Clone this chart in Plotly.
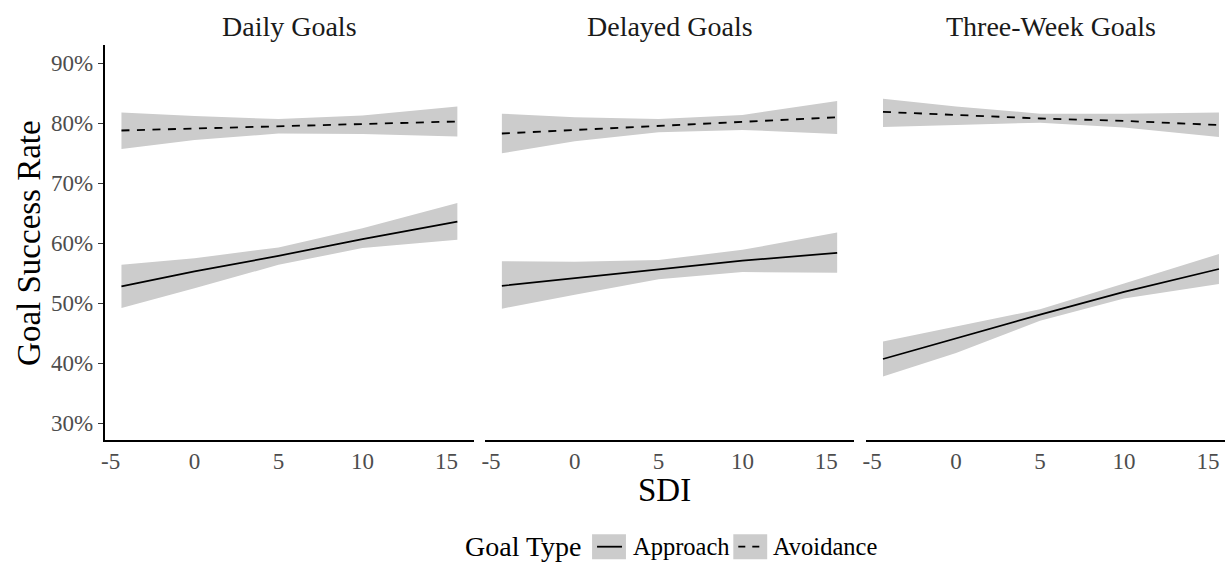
import plotly.graph_objects as go

W, H = 1225, 569

# ---------------- data ----------------
panels = ["Daily Goals", "Delayed Goals", "Three-Week Goals"]
sdi = [-4.35, 0, 5, 10, 15.65]

# Daily Goals
daily_appr = [52.8, 55.3, 57.9, 60.7, 63.6]
daily_appr_lo = [49.2, 52.5, 56.4, 59.2, 60.6]
daily_appr_hi = [56.4, 57.5, 59.3, 62.5, 66.7]
daily_avoid = [78.8, 79.1, 79.5, 79.9, 80.3]
daily_avoid_lo = [75.7, 77.2, 78.3, 78.2, 77.8]
daily_avoid_hi = [81.8, 81.2, 80.7, 81.3, 82.8]

# Delayed Goals
delayed_appr = [52.9, 54.2, 55.7, 57.1, 58.4]
delayed_appr_lo = [49.1, 51.4, 54.0, 55.2, 55.1]
delayed_appr_hi = [57.0, 56.9, 57.2, 58.9, 61.8]
delayed_avoid = [78.3, 78.9, 79.6, 80.2, 81.0]
delayed_avoid_lo = [75.0, 77.0, 78.5, 78.9, 78.2]
delayed_avoid_hi = [81.6, 81.0, 80.7, 81.4, 83.7]

# Three-Week Goals
three_appr = [40.7, 44.2, 48.1, 51.9, 55.7]
three_appr_lo = [37.8, 41.7, 47.1, 50.8, 53.2]
three_appr_hi = [43.6, 46.1, 49.0, 53.3, 58.2]
three_avoid = [81.9, 81.4, 80.8, 80.4, 79.7]
three_avoid_lo = [79.4, 79.7, 80.1, 79.3, 77.7]
three_avoid_hi = [84.1, 82.8, 81.6, 81.6, 81.8]

x_ticks = [-5, 0, 5, 10, 15]
y_ticks = [30, 40, 50, 60, 70, 80, 90]

panel_data = [
    (daily_appr, daily_appr_lo, daily_appr_hi, daily_avoid, daily_avoid_lo, daily_avoid_hi),
    (delayed_appr, delayed_appr_lo, delayed_appr_hi, delayed_avoid, delayed_avoid_lo, delayed_avoid_hi),
    (three_appr, three_appr_lo, three_appr_hi, three_avoid, three_avoid_lo, three_avoid_hi),
]

# ---------------- style ----------------
FONT = "Liberation Serif"
BAND = "rgb(204,204,204)"
INK = "#1A1A1A"
TICKTXT = "#4D4D4D"

# panel pixel boxes
px_left = [101, 482.7, 865]
px_right = [471.7, 852.7, 1225]
x_ranges = [[-5.35, 16.65], [-5.35, 16.65], [-5.35, 16.01]]
y_top, y_bot = 45, 440
y_range = [27.2, 93.05]

fig = go.Figure()

for i, (ap, aplo, aphi, av, avlo, avhi) in enumerate(panel_data):
    sfx = "" if i == 0 else str(i + 1)
    xa, ya = "x" + sfx, "y" + sfx
    # bands
    for lo, hi in ((aplo, aphi), (avlo, avhi)):
        fig.add_trace(go.Scatter(
            x=sdi + sdi[::-1], y=hi + lo[::-1], fill="toself", fillcolor=BAND,
            line=dict(width=0), mode="lines", hoverinfo="skip", showlegend=False,
            xaxis=xa, yaxis=ya))
    fig.add_trace(go.Scatter(x=sdi, y=ap, mode="lines", line=dict(color="black", width=1.7),
                             showlegend=False, xaxis=xa, yaxis=ya, name="Approach"))
    fig.add_trace(go.Scatter(x=sdi, y=av, mode="lines",
                             line=dict(color="black", width=1.8, dash="8px,7.5px"),
                             showlegend=False, xaxis=xa, yaxis=ya, name="Avoidance"))

layout = dict(
    width=W, height=H, margin=dict(l=0, r=0, t=0, b=0),
    paper_bgcolor="white", plot_bgcolor="white",
    font=dict(family=FONT, color=INK),
    showlegend=False,
)
ydom = [(H - y_bot) / H, (H - y_top) / H]
for i in range(3):
    sfx = "" if i == 0 else str(i + 1)
    layout["xaxis" + sfx] = dict(
        domain=[px_left[i] / W, min(px_right[i] / W, 1.0)], range=x_ranges[i],
        anchor="y" + sfx, tickmode="array", tickvals=x_ticks,
        ticktext=[str(v) for v in x_ticks], ticks="", ticklen=0, showgrid=False,
        zeroline=False, showline=True, linecolor="black", linewidth=1.6,
        tickfont=dict(family=FONT, size=23, color=TICKTXT), fixedrange=True)
    ydict = dict(domain=ydom, range=y_range, anchor="x" + sfx, showgrid=False,
                 zeroline=False, fixedrange=True)
    if i == 0:
        ydict.update(tickmode="array", tickvals=y_ticks,
                     ticktext=[f"{v}%" for v in y_ticks], ticks="outside", ticklen=5,
                     tickwidth=1.4, tickcolor="#333333", showline=True, linecolor="black",
                     linewidth=1.6, tickfont=dict(family=FONT, size=23, color=TICKTXT))
    else:
        ydict.update(showticklabels=False, showline=False, ticks="")
    layout["yaxis" + sfx] = ydict

annotations = []
for i, name in enumerate(panels):
    cx = (px_left[i] + px_left[i] + 370.7) / 2
    annotations.append(dict(text=name, x=cx / W, y=1 - 26 / H, xref="paper", yref="paper",
                            showarrow=False, xanchor="center", yanchor="middle",
                            font=dict(family=FONT, size=28, color=INK)))
annotations.append(dict(text="Goal Success Rate", x=25 / W, y=1 - 243 / H, xref="paper",
                        yref="paper", showarrow=False, textangle=-90, xanchor="center",
                        yanchor="middle", font=dict(family=FONT, size=33, color="black")))
annotations.append(dict(text="SDI", x=663 / W, y=1 - 490 / H, xref="paper", yref="paper",
                        showarrow=False, xanchor="center", yanchor="middle",
                        font=dict(family=FONT, size=33, color="black")))

# manual legend
leg_y = 546.7
annotations.append(dict(text="Goal Type", x=461 / W, y=1 - leg_y / H, xref="paper", yref="paper",
                        showarrow=False, xanchor="left", yanchor="middle",
                        font=dict(family=FONT, size=28, color="black")))
annotations.append(dict(text="Approach", x=629 / W, y=1 - leg_y / H, xref="paper", yref="paper",
                        showarrow=False, xanchor="left", yanchor="middle",
                        font=dict(family=FONT, size=24.5, color="black")))
annotations.append(dict(text="Avoidance", x=770 / W, y=1 - leg_y / H, xref="paper", yref="paper",
                        showarrow=False, xanchor="left", yanchor="middle",
                        font=dict(family=FONT, size=24.5, color="black")))
shapes = []
for x0, dash in ((590, "solid"), (731.7, "7px,7px")):
    shapes.append(dict(type="rect", xref="paper", yref="paper", x0=x0 / W, x1=(x0 + 34) / W,
                       y0=1 - (leg_y + 12.5) / H, y1=1 - (leg_y - 12.5) / H,
                       fillcolor=BAND, line=dict(width=0), layer="below"))
    shapes.append(dict(type="line", xref="paper", yref="paper", x0=(x0 + 5) / W,
                       x1=(x0 + 30) / W, y0=1 - leg_y / H, y1=1 - leg_y / H,
                       line=dict(color="black", width=1.8, dash=dash)))
layout["annotations"] = annotations
layout["shapes"] = shapes

fig.update_layout(**layout)
fig.write_html("out.html", config={"displayModeBar": False},
               post_script="document.body.style.margin='0';document.body.style.overflow='hidden';")
